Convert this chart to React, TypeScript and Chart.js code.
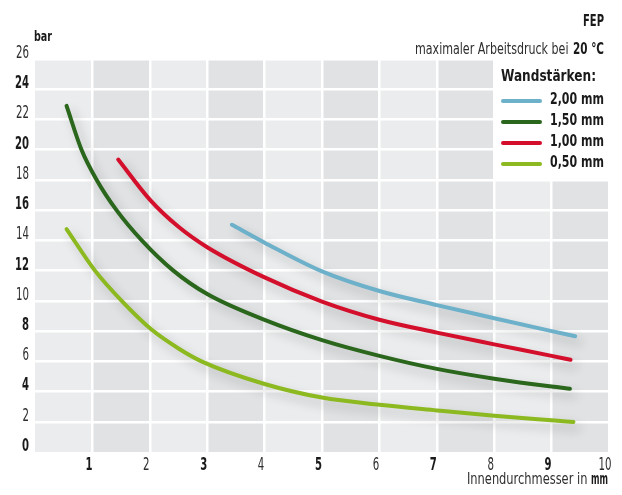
import React, { useEffect, useRef } from "react";
import { Chart, registerables } from "chart.js";

Chart.register(...registerables);

const FONT = "'DejaVu Sans Condensed', 'DejaVu Sans', sans-serif";

const seriesLabels = ["2,00 mm", "1,50 mm", "1,00 mm", "0,50 mm"];
const seriesColors = ["#6cb0c9", "#2a661c", "#d40f2b", "#8bb91f"];

const xBlue = [3.43, 4, 5, 6, 7, 8, 9, 9.41];
const yBlue = [15.03, 13.85, 11.95, 10.65, 9.72, 8.85, 8.0, 7.66];

const xDarkGreen = [0.55, 0.81, 1.075, 1.42, 1.86, 2.41, 3, 4, 5, 6, 7, 8, 9, 9.32];
const yDarkGreen = [22.9, 20, 18, 16, 14, 12, 10.45, 8.74, 7.4, 6.36, 5.5, 4.85, 4.33, 4.19];

const xRed = [1.45, 2, 2.5, 3, 4, 5, 6, 7, 8, 9, 9.33];
const yRed = [19.35, 16.7, 14.9, 13.55, 11.55, 9.95, 8.75, 7.9, 7.12, 6.36, 6.1];

const xLightGreen = [0.55, 1.045, 1.51, 2.03, 2.5, 2.9, 4, 5, 6, 7, 8, 9, 9.38];
const yLightGreen = [14.75, 12, 10, 8.1, 6.85, 6.0, 4.5, 3.6, 3.12, 2.75, 2.4, 2.1, 1.99];

const seriesX = [xBlue, xDarkGreen, xRed, xLightGreen];
const seriesY = [yBlue, yDarkGreen, yRed, yLightGreen];

const xMin = 0;
const xMax = 10;
const xTickValues = [1, 2, 3, 4, 5, 6, 7, 8, 9, 10];
const yMin = 0;
const yMax = 26;
const yStep = 2;
const yTickValues = [0, 2, 4, 6, 8, 10, 12, 14, 16, 18, 20, 22, 24, 26];

const titleText = "FEP";
const subtitleNormal = "maximaler Arbeitsdruck bei ";
const subtitleBold = "20 °C";
const legendTitle = "Wandstärken:";
const yUnit = "bar";
const xTitleNormal = "Innendurchmesser in ";
const xTitleBold = "mm";

const TEXT_DARK = "#1a1a1a";
const TEXT_MID = "#2e2e2e";

// draw text horizontally compressed to a target width
function fitText(
  ctx: CanvasRenderingContext2D,
  text: string,
  x: number,
  y: number,
  font: string,
  targetW: number,
  align: CanvasTextAlign,
  color: string
) {
  ctx.save();
  ctx.font = font;
  const w = ctx.measureText(text).width || 1;
  const sx = targetW / w;
  ctx.translate(x, y);
  ctx.scale(sx, 1);
  ctx.textAlign = align;
  ctx.textBaseline = "middle";
  ctx.fillStyle = color;
  ctx.fillText(text, 0, 0);
  ctx.restore();
}

function digitText(
  ctx: CanvasRenderingContext2D,
  text: string,
  x: number,
  y: number,
  bold: boolean,
  align: CanvasTextAlign
) {
  const font = `${bold ? "bold " : ""}17px ${FONT}`;
  ctx.save();
  ctx.font = font;
  const dw = ctx.measureText("0").width || 1;
  const w = ctx.measureText(text).width;
  ctx.restore();
  const per = bold ? 7.0 : 6.5;
  fitText(ctx, text, x, y, font, (per / dw) * w, align, bold ? TEXT_DARK : TEXT_MID);
}

const decorPlugin = {
  id: "decor",
  beforeDraw(chart: any) {
    const { ctx, chartArea, scales } = chart;
    const xs = scales.x;
    ctx.save();
    ctx.fillStyle = "#ffffff";
    ctx.fillRect(0, 0, chart.width, chart.height);
    for (let i = xMin; i < xMax; i++) {
      const a = xs.getPixelForValue(i);
      const b = xs.getPixelForValue(i + 1);
      ctx.fillStyle = i % 2 === 0 ? "#ebeced" : "#e1e2e4";
      ctx.fillRect(a, chartArea.top, b - a, chartArea.bottom - chartArea.top);
    }
    ctx.restore();
  },
  beforeDatasetsDraw(chart: any) {
    const { ctx, scales } = chart;
    const xs = scales.x;
    const ys = scales.y;
    ctx.save();
    // white legend box
    const bx = xs.getPixelForValue(8) - 1;
    const by = ys.getPixelForValue(18) - 1;
    ctx.fillStyle = "#ffffff";
    ctx.fillRect(bx, 0, chart.width - bx, by);

    // title
    fitText(ctx, titleText, 604, 22, `bold 15px ${FONT}`, 21, "right", TEXT_DARK);
    // subtitle
    fitText(ctx, subtitleBold, 604, 50, `bold 15px ${FONT}`, 31, "right", TEXT_DARK);
    fitText(ctx, subtitleNormal, 572, 50, `15px ${FONT}`, 157, "right", TEXT_MID);

    // legend
    fitText(ctx, legendTitle, 501, 77, `bold 15px ${FONT}`, 95, "left", TEXT_DARK);
    const rowY = [100, 121, 142, 163];
    seriesLabels.forEach((lab, i) => {
      ctx.save();
      ctx.strokeStyle = seriesColors[i];
      ctx.lineWidth = 4;
      ctx.lineCap = "round";
      ctx.beginPath();
      ctx.moveTo(503, rowY[i] + 1);
      ctx.lineTo(540, rowY[i] + 1);
      ctx.stroke();
      ctx.restore();
      fitText(ctx, lab, 604, rowY[i], `bold 15px ${FONT}`, 54, "right", TEXT_DARK);
    });

    // y unit
    fitText(ctx, yUnit, 34, 37, `bold 14px ${FONT}`, 18, "left", TEXT_DARK);

    // x title
    fitText(ctx, xTitleBold, 608, 480, `bold 16px ${FONT}`, 17, "right", TEXT_DARK);
    fitText(ctx, xTitleNormal, 591, 480, `16px ${FONT}`, 124, "right", TEXT_MID);

    // tick labels
    yTickValues.forEach((v) => {
      digitText(ctx, String(v), 29, ys.getPixelForValue(v) - 5.5, v % 4 === 0, "right");
    });
    xTickValues.forEach((v) => {
      const off = v === 10 ? -4 : -3.5;
      digitText(ctx, String(v), xs.getPixelForValue(v) + off, 466, v % 2 === 1, "center");
    });
    ctx.restore();
  },
  beforeDatasetDraw(chart: any) {
    const ctx = chart.ctx;
    ctx.save();
    ctx.shadowColor = "rgba(0,0,0,0.22)";
    ctx.shadowBlur = 11;
    ctx.shadowOffsetX = 5;
    ctx.shadowOffsetY = 6;
  },
  afterDatasetDraw(chart: any) {
    chart.ctx.restore();
  },
};

export default function App() {
  const ref = useRef<HTMLCanvasElement | null>(null);

  useEffect(() => {
    if (!ref.current) return;
    const datasets = seriesLabels.map((lab, i) => ({
      label: lab,
      data: seriesX[i].map((x, j) => ({ x, y: seriesY[i][j] })),
      borderColor: seriesColors[i],
      backgroundColor: seriesColors[i],
      borderWidth: 4,
      borderCapStyle: "round" as const,
      borderJoinStyle: "round" as const,
      pointRadius: 0,
      cubicInterpolationMode: "monotone" as const,
      fill: false,
    }));

    const chart = new Chart(ref.current, {
      type: "line",
      data: { datasets },
      options: {
        responsive: false,
        animation: false,
        devicePixelRatio: 1,
        layout: { padding: { top: 59, right: 13, left: 0, bottom: 0 } },
        plugins: {
          legend: { display: false },
          tooltip: { enabled: false },
          title: { display: false },
        },
        scales: {
          x: {
            type: "linear",
            min: xMin,
            max: xMax,
            afterFit: (s: any) => {
              s.height = 43;
            },
            border: { display: false },
            grid: {
              color: (c: any) => (c.tick && c.tick.value === xMin ? "rgba(0,0,0,0)" : "#ffffff"),
              lineWidth: 2.5,
              drawTicks: false,
            },
            ticks: {
              stepSize: 1,
              display: false,
            },
          },
          y: {
            type: "linear",
            min: yMin,
            max: yMax,
            afterFit: (s: any) => {
              s.width = 35;
            },
            border: { display: false },
            grid: {
              color: (c: any) => (c.tick && c.tick.value === yMin ? "rgba(0,0,0,0)" : "#ffffff"),
              lineWidth: 2.5,
              drawTicks: false,
            },
            ticks: {
              stepSize: yStep,
              display: false,
            },
          },
        },
      },
      plugins: [decorPlugin],
    });
    return () => chart.destroy();
  }, []);

  return (
    <div style={{ position: "absolute", left: 0, top: 0, width: 622, height: 495, background: "#fff" }}>
      <canvas ref={ref} width={622} height={495} style={{ width: 622, height: 495, display: "block" }} />
    </div>
  );
}
